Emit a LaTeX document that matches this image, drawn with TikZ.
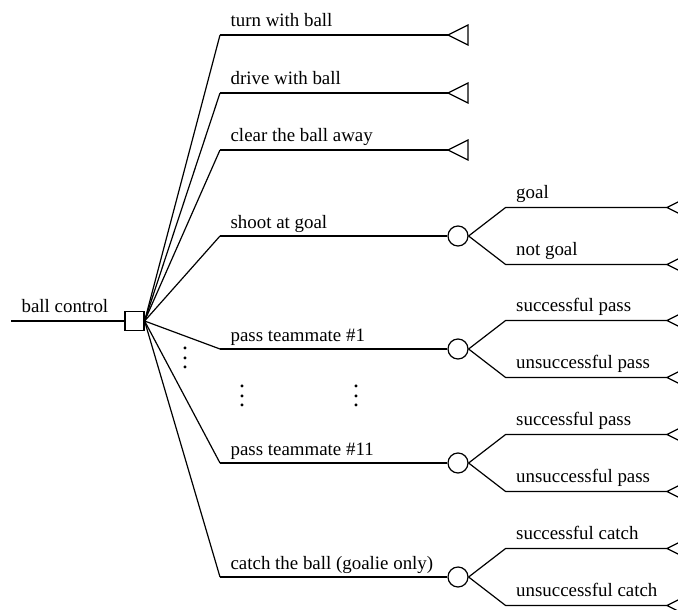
\documentclass[tikz,border=0pt]{standalone}
\usepackage{fontspec}
\setmainfont{Liberation Serif}
\usetikzlibrary{positioning}
\tikzset{
  decision/.style={
    shape = rectangle,
    draw,
    fill = white,
    inner sep = 0pt,
    minimum size = 9.5pt
  },
  chance/.style={
    shape = circle,
    draw,
    fill = white,
    inner sep = 0pt,
    minimum size = 10pt
  },
  branch/.style={
    anchor = base west,
    inner sep = 0pt,
    font = \fontsize{9.45}{11}\selectfont
  },
  morerows/.style={
    inner sep = 0pt,
    scale = 1.2
  },
  terminal/.pic={
    \draw (0,0) -- (20,-10) -- (20,10) -- cycle;
  }
}

\begin{document}
\begin{tikzpicture}[x=0.5pt,y=-0.5pt,line width=0.6pt]
        \useasboundingbox (0,0) rectangle (678,609);
        % root decision
        \coordinate (start) at (11,321);
        \node[decision] (dec) at (134.5,321) {};
        \draw (start) -- (dec.west);
        \node[branch] (rootlbl) at ([shift={(10,-9)}]start) {ball control};
        % alternatives
        \foreach \name/\y in {turn/35, drive/93, clear/150, shoot/236, passA/349, passB/463, catch/577}
            \coordinate (\name) at (220,\y);
        \foreach \name in {turn, drive, clear, shoot, passA, passB, catch}
            \draw (dec.east) -- (\name);
        \node[branch] (turnlbl) at ([shift={(10,-8)}]turn) {turn with ball};
        \node[branch] (drivelbl) at ([shift={(10,-8)}]drive) {drive with ball};
        \node[branch] (clearlbl) at ([shift={(10,-8)}]clear) {clear the ball away};
        \node[branch] (shootlbl) at ([shift={(10,-8)}]shoot) {shoot at goal};
        \node[branch] (passAlbl) at ([shift={(10,-8)}]passA) {pass teammate \#1};
        \node[branch] (passBlbl) at ([shift={(10,-8)}]passB) {pass teammate \#11};
        \node[branch] (catchlbl) at ([shift={(10,-8)}]catch) {catch the ball (goalie only)};
        % terminal alternatives
        \foreach \name in {turn, drive, clear} {
            \coordinate (\name End) at (448,0 |- \name);
            \draw (\name) -- (\name End);
            \pic at (\name End) {terminal};
        }
        % chance nodes
        \foreach \name in {shoot, passA, passB, catch} {
            \node[chance] (\name C) at (458,0 |- \name) {};
            \draw (\name) -- (\name C.west);
            \coordinate (\name Hi) at ([shift={(37,-28.5)}]\name C.east);
            \coordinate (\name Lo) at ([shift={(37,28.5)}]\name C.east);
            \coordinate (\name HiEnd) at (667,0 |- \name Hi);
            \coordinate (\name LoEnd) at (667,0 |- \name Lo);
            \draw (\name C.east) -- (\name Hi) -- (\name HiEnd);
            \draw (\name C.east) -- (\name Lo) -- (\name LoEnd);
            \pic at (\name HiEnd) {terminal};
            \pic at (\name LoEnd) {terminal};
        }
        \node[branch] at ([shift={(10,-9)}]shootHi) {goal};
        \node[branch] at ([shift={(10,-9)}]shootLo) {not goal};
        \node[branch] at ([shift={(10,-9)}]passAHi) {successful pass};
        \node[branch] at ([shift={(10,-9)}]passALo) {unsuccessful pass};
        \node[branch] at ([shift={(10,-9)}]passBHi) {successful pass};
        \node[branch] at ([shift={(10,-9)}]passBLo) {unsuccessful pass};
        \node[branch] at ([shift={(10,-9)}]catchHi) {successful catch};
        \node[branch] at ([shift={(10,-9)}]catchLo) {unsuccessful catch};
        % omitted rows
        \node[morerows] (dotsA) at (185,351) {$\vdots$};
        \node[morerows] (dotsB) at (242,389) {$\vdots$};
        \node[morerows] (dotsC) at (356,389) {$\vdots$};
\end{tikzpicture}
\end{document}
